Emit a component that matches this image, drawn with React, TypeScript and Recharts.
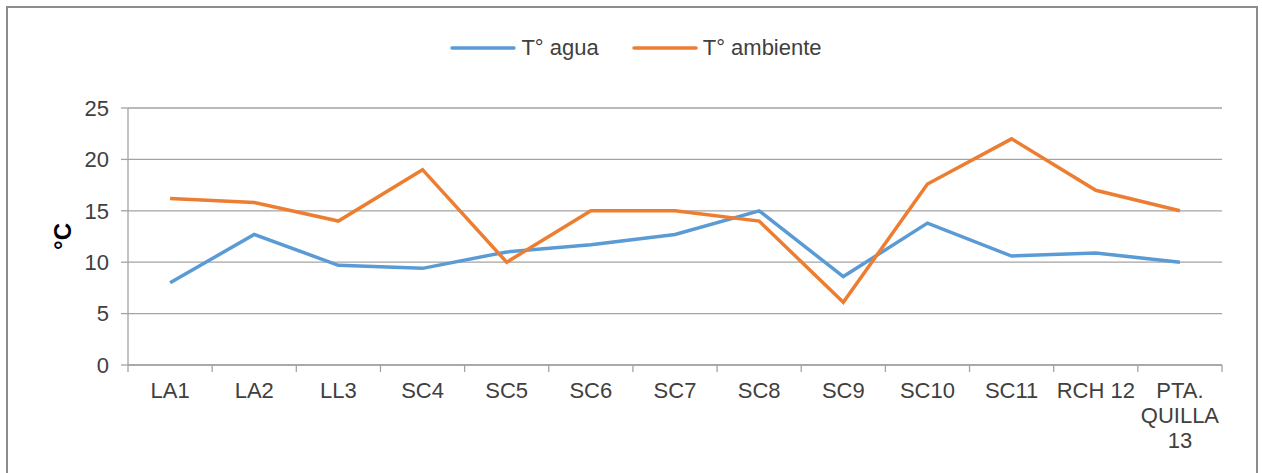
import { CartesianGrid, Legend, Line, LineChart, XAxis, YAxis } from "recharts";

const stations = ["LA1", "LA2", "LL3", "SC4", "SC5", "SC6", "SC7", "SC8", "SC9", "SC10", "SC11", "RCH 12", "PTA. QUILLA 13"];
const waterTemp = [8.0, 12.7, 9.7, 9.4, 11.0, 11.7, 12.7, 15.0, 8.6, 13.8, 10.6, 10.9, 10.0];
const airTemp = [16.2, 15.8, 14.0, 19.0, 10.0, 15.0, 15.0, 14.0, 6.1, 17.6, 22.0, 17.0, 15.0];
const yTicks = [0, 5, 10, 15, 20, 25];

const seriesNames = { water: "T° agua", air: "T° ambiente" };
const colors = { water: "#5B9BD5", air: "#ED7D31" };

const data = stations.map((s, i) => ({ station: s, water: waterTemp[i], air: airTemp[i] }));

const W = 1262;
const H = 473;
const PLOT_LEFT = 128;
const PLOT_RIGHT = 1222;
const BAND = (PLOT_RIGHT - PLOT_LEFT) / stations.length;
const FONT = "'Liberation Sans', Arial, sans-serif";
const FS = 22;
const TEXT = "#404040";
const GRID = "#a3a3a3";

// category labels get split into lines like Excel does, with boundary tick marks
function StationTick(props: any) {
  const { x, y, payload, index } = props;
  const label = String(payload.value);
  const lines = label === "PTA. QUILLA 13" ? ["PTA.", "QUILLA", "13"] : [label];
  const left = x - BAND / 2;
  return (
    <g>
      <line x1={left} x2={left} y1={y} y2={y + 7} stroke={GRID} strokeWidth={1.3} />
      {index === stations.length - 1 && (
        <line x1={x + BAND / 2} x2={x + BAND / 2} y1={y} y2={y + 7} stroke={GRID} strokeWidth={1.3} />
      )}
      <text x={x} y={y + 17} textAnchor="middle" fill={TEXT} fontSize={FS} fontFamily={FONT}>
        {lines.map((l, i) => (
          <tspan key={i} x={x} dy={i === 0 ? "0.71em" : 25}>
            {l}
          </tspan>
        ))}
      </text>
    </g>
  );
}

function LegendContent() {
  const items = [
    { name: seriesNames.water, color: colors.water },
    { name: seriesNames.air, color: colors.air },
  ];
  return (
    <div style={{ display: "flex", justifyContent: "center", alignItems: "center", height: 24, gap: 33, fontFamily: FONT, fontSize: FS, color: TEXT, paddingLeft: 10, boxSizing: "border-box" }}>
      {items.map((it) => (
        <div key={it.name} style={{ display: "flex", alignItems: "center", gap: 5 }}>
          <svg width={66} height={6}>
            <line x1={2} x2={64} y1={3} y2={3} stroke={it.color} strokeWidth={3.5} strokeLinecap="round" />
          </svg>
          <span>{it.name}</span>
        </div>
      ))}
    </div>
  );
}

export default function App() {
  return (
    <div style={{ position: "absolute", left: 0, top: 0, width: W, height: H, overflow: "hidden", background: "#fff" }}>
      <div
        style={{
          position: "absolute",
          left: 6,
          top: 6,
          width: 1252,
          height: 500,
          border: "2px solid #8c8c8c",
          boxSizing: "border-box",
        }}
      />
      <LineChart width={W} height={H} data={data} margin={{ top: 84, right: W - PLOT_RIGHT, bottom: 0, left: 0 }}>
        <CartesianGrid vertical={false} stroke={GRID} strokeWidth={1.3} />
        <XAxis
          dataKey="station"
          height={108}
          interval={0}
          padding={{ left: BAND / 2, right: BAND / 2 }}
          tickLine={false}
          tickSize={0}
          tickMargin={0}
          axisLine={{ stroke: GRID, strokeWidth: 1.3 }}
          tick={<StationTick />}
        />
        <YAxis
          width={PLOT_LEFT}
          domain={[0, 25]}
          ticks={yTicks}
          tickSize={7}
          tickMargin={12}
          tickLine={{ stroke: GRID, strokeWidth: 1.3 }}
          axisLine={{ stroke: GRID, strokeWidth: 1.3 }}
          tick={{ fill: TEXT, fontSize: FS, fontFamily: FONT }}
          label={{ value: "°C", angle: -90, position: "center", dx: -2, fill: "#000", fontSize: 24, fontWeight: "bold", fontFamily: FONT }}
        />
        <Legend verticalAlign="top" content={<LegendContent />} wrapperStyle={{ top: 36, left: 0, width: W }} />
        <Line dataKey="water" name={seriesNames.water} stroke={colors.water} strokeWidth={3.5} dot={false} isAnimationActive={false} />
        <Line dataKey="air" name={seriesNames.air} stroke={colors.air} strokeWidth={3.5} dot={false} isAnimationActive={false} />
      </LineChart>
    </div>
  );
}
